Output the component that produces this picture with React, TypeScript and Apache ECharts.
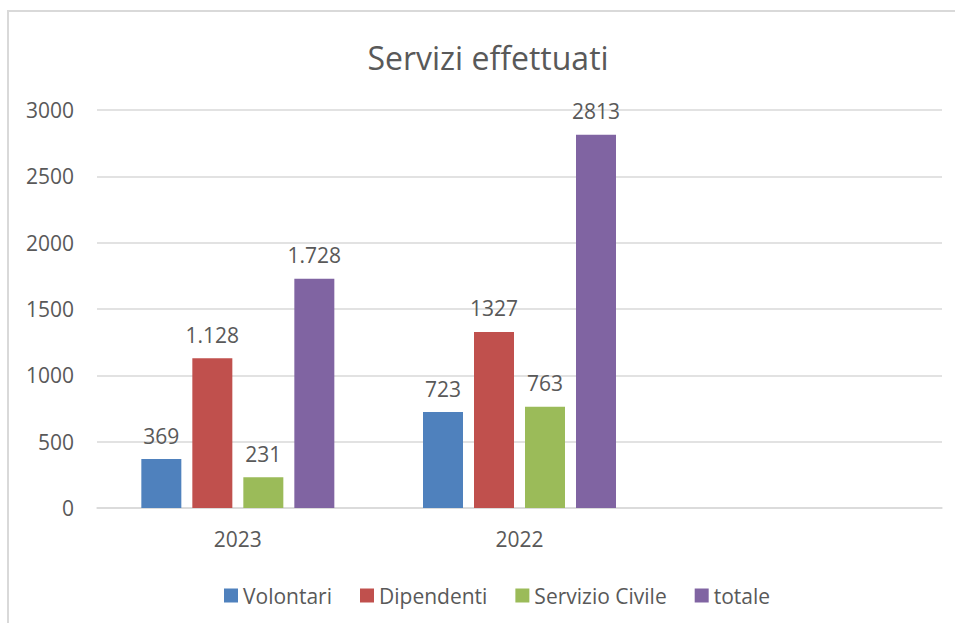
import React, { useEffect, useRef } from "react";
import * as echarts from "echarts";

const categories = ["2023", "2022", ""];
const seriesNames = ["Volontari", "Dipendenti", "Servizio Civile", "totale"];
const volontari = [369, 723];
const dipendenti = [1128, 1327];
const servizioCivile = [231, 763];
const totale = [1728, 2813];
const volontariLabels = ["369", "723"];
const dipendentiLabels = ["1.128", "1327"];
const servizioCivileLabels = ["231", "763"];
const totaleLabels = ["1.728", "2813"];
const colors = ["#4f81bd", "#c0504d", "#9bbb59", "#8064a2"];

const FONT = "'Open Sans', sans-serif";
const TXT = "#595959";

export default function App() {
  const ref = useRef<HTMLDivElement>(null);
  useEffect(() => {
    if (!ref.current) return;
    const chart = echarts.init(ref.current, null, { renderer: "svg" });
    const values = [volontari, dipendenti, servizioCivile, totale];
    const labels = [volontariLabels, dipendentiLabels, servizioCivileLabels, totaleLabels];
    chart.setOption({
      animation: false,
      textStyle: { fontFamily: FONT },
      graphic: [
        {
          type: "rect",
          shape: { x: 8, y: 11, width: 1000, height: 700 },
          style: { fill: "none", stroke: "#d9d9d9", lineWidth: 2 },
          silent: true,
        },
        {
          type: "text",
          x: 488,
          y: 57,
          style: {
            text: "Servizi effettuati",
            fontFamily: FONT,
            fontSize: 32,
            fill: TXT,
            textAlign: "center",
            textVerticalAlign: "middle",
          },
        },
      ],
      legend: {
        left: 219,
        top: 580,
        itemWidth: 14,
        itemHeight: 14,
        itemGap: 28,
        icon: "rect",
        textStyle: { color: TXT, fontSize: 21, fontFamily: FONT },
        data: seriesNames,
      },
      grid: { left: 97, right: 13, top: 110, bottom: 115 },
      xAxis: {
        type: "category",
        data: categories,
        axisLine: { lineStyle: { color: "#d9d9d9", width: 1.5 } },
        axisTick: { show: false },
        axisLabel: { color: TXT, fontSize: 21, margin: 20, fontFamily: FONT },
      },
      yAxis: {
        type: "value",
        min: 0,
        max: 3000,
        interval: 500,
        axisLine: { show: false },
        axisTick: { show: false },
        splitLine: { lineStyle: { color: "#d9d9d9", width: 1.5 } },
        axisLabel: {
          color: TXT,
          fontSize: 21,
          margin: 23,
          fontFamily: FONT,
          formatter: (v: number) => String(v),
        },
      },
      series: seriesNames.map((name, i) => ({
        name,
        type: "bar",
        data: values[i],
        barWidth: 40,
        barGap: "27.5%",
        itemStyle: { color: colors[i] },
        label: {
          show: true,
          position: "top",
          distance: 13,
          color: TXT,
          fontSize: 21,
          fontFamily: FONT,
          formatter: (p: any) => labels[i][p.dataIndex],
        },
      })),
    });
    return () => chart.dispose();
  }, []);
  return (
    <div
      ref={ref}
      style={{ position: "fixed", left: 0, top: 0, width: 955, height: 623, background: "#fff" }}
    />
  );
}
